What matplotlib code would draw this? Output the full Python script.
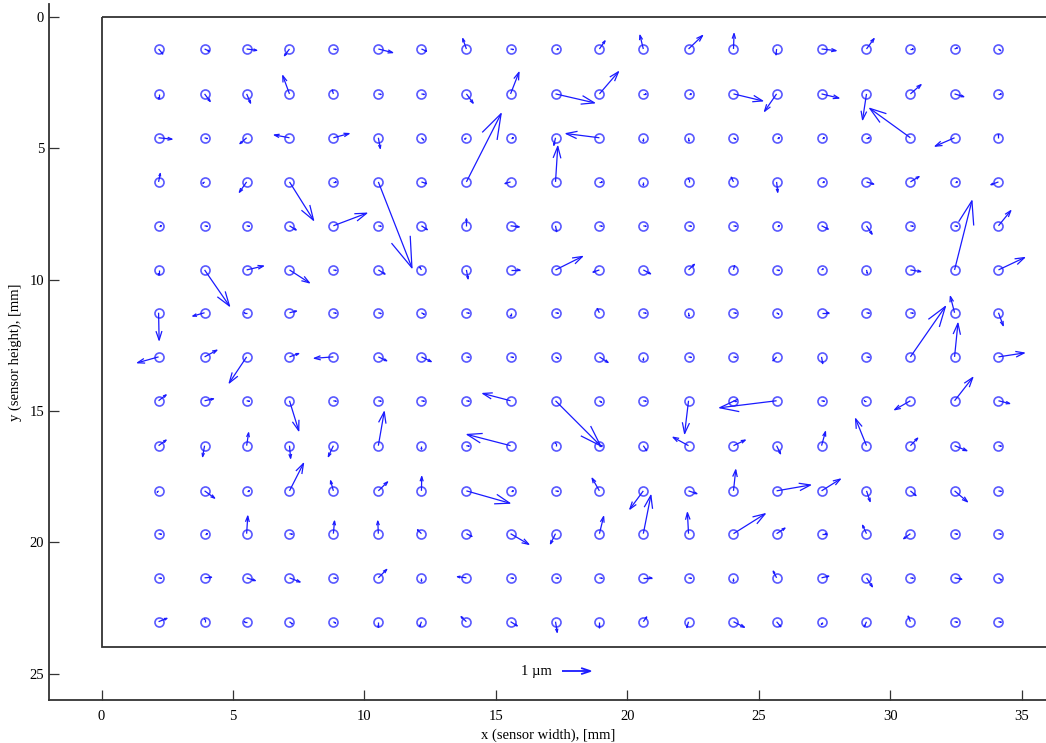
import matplotlib.pyplot as plt
import numpy as np
from matplotlib.collections import LineCollection
from matplotlib.patches import Rectangle

plt.rcParams['font.family'] = ['Liberation Serif', 'DejaVu Serif']

# sensor outline, mm
sensor_w, sensor_h = 36, 24

# measurement grid, mm
col_x = [2.17, 3.92, 5.52, 7.15, 8.82, 10.53, 12.17, 13.88, 15.56, 17.27,
         18.94, 20.61, 22.33, 24.04, 25.68, 27.39, 29.10, 30.77, 32.45, 34.12]
row_y = [1.22, 2.93, 4.60, 6.28, 7.95, 9.63, 11.26, 12.94, 14.61, 16.32,
         18.04, 19.67, 21.35, 23.02]

# displacement in x, um (one list per row)
du = [
    [0.15, 0.17, 0.36, -0.18, 0.10, 0.51, 0.18, -0.13, 0.10, 0.10, 0.20, -0.12, 0.50, 0.02, -0.02, 0.52, 0.27, 0.10, 0.10, 0.08],
    [0.00, 0.20, 0.14, -0.24, -0.04, 0.10, 0.10, 0.24, 0.30, 1.39, 0.68, 0.10, 0.10, 1.04, -0.43, 0.62, -0.14, 0.38, 0.33, 0.10],
    [0.48, 0.10, -0.24, -0.54, 0.56, 0.07, 0.08, -0.06, 0.10, -0.06, -1.19, 0.00, 0.02, 0.08, 0.10, 0.10, 0.10, -1.45, -0.69, 0.00],
    [0.06, -0.06, -0.26, 0.86, 0.10, 1.20, 0.18, 1.24, -0.20, 0.08, 0.10, 0.00, 0.00, -0.08, 0.04, 0.10, 0.26, 0.31, 0.10, -0.27],
    [0.10, 0.10, 0.10, 0.24, 1.19, 0.10, 0.21, 0.00, 0.31, 0.04, 0.10, 0.10, 0.10, 0.10, 0.10, 0.24, 0.20, 0.10, 0.10, 0.44],
    [0.00, 0.89, 0.60, 0.71, 0.10, 0.24, -0.06, 0.06, 0.33, 0.96, -0.23, 0.26, 0.21, 0.04, 0.10, 0.06, 0.03, 0.37, 0.62, 0.93],
    [0.02, -0.42, -0.08, 0.25, 0.10, 0.10, 0.10, 0.10, 0.00, 0.10, -0.08, 0.10, 0.02, 0.10, 0.08, 0.26, 0.10, 0.10, -0.15, 0.17],
    [-0.75, 0.44, -0.62, 0.33, -0.68, 0.30, 0.35, 0.10, 0.10, 0.10, 0.31, 0.00, 0.10, 0.10, -0.13, 0.04, 0.10, 1.25, 0.12, 0.92],
    [0.27, 0.32, 0.10, 0.33, 0.10, 0.10, 0.10, 0.10, -0.99, 1.61, 0.08, 0.10, -0.14, 0.10, -2.03, 0.10, -0.08, -0.56, 0.65, 0.40],
    [0.27, -0.07, 0.07, 0.04, -0.18, 0.21, 0.00, 0.10, -1.55, 0.00, 0.10, 0.12, -0.55, 0.42, 0.14, 0.14, -0.39, 0.26, 0.44, 0.10],
    [-0.05, 0.36, 0.10, 0.50, -0.10, 0.33, 0.01, 1.55, 0.10, 0.10, -0.26, -0.48, 0.30, 0.08, 1.21, 0.67, 0.13, 0.20, 0.46, 0.10],
    [0.10, 0.10, 0.04, 0.10, 0.04, -0.02, -0.14, 0.20, 0.65, -0.18, 0.15, 0.27, -0.04, 1.13, 0.30, 0.18, -0.14, -0.24, 0.10, 0.10],
    [0.10, 0.25, 0.31, 0.38, 0.10, 0.30, 0.00, -0.32, 0.10, 0.10, 0.10, 0.30, 0.10, 0.00, -0.12, 0.26, 0.21, 0.10, 0.26, 0.10],
    [0.30, 0.00, -0.08, 0.10, 0.08, 0.00, -0.06, -0.19, 0.24, 0.06, 0.00, 0.12, -0.06, 0.39, 0.15, 0.00, -0.08, -0.08, 0.10, 0.10],
]
# displacement in y, um (positive = towards larger y, i.e. down on the plot)
dv = [
    [0.18, 0.08, 0.05, 0.24, 0.02, 0.13, 0.08, -0.37, 0.02, 0.00, -0.29, -0.49, -0.48, -0.55, 0.21, 0.06, -0.37, 0.00, -0.04, 0.06],
    [0.18, 0.27, 0.33, -0.65, -0.14, 0.02, 0.02, 0.33, -0.77, 0.32, -0.79, 0.00, 0.00, 0.25, 0.62, 0.15, 0.92, -0.33, 0.10, 0.00],
    [0.05, 0.03, 0.21, -0.10, -0.15, 0.38, 0.08, 0.05, 0.00, 0.27, -0.15, 0.12, 0.12, 0.06, 0.00, 0.00, 0.00, -1.05, 0.30, -0.12],
    [-0.30, 0.05, 0.37, 1.37, 0.00, 3.07, 0.06, -2.44, 0.06, -1.27, 0.00, 0.12, -0.12, -0.17, 0.37, 0.00, 0.08, -0.19, 0.00, 0.10],
    [0.00, 0.02, 0.02, 0.15, -0.45, 0.02, 0.14, -0.25, 0.04, 0.21, 0.02, 0.02, 0.02, 0.02, 0.00, 0.12, 0.30, 0.02, 0.02, -0.54],
    [0.18, 1.29, -0.14, 0.46, 0.02, 0.15, -0.10, 0.32, 0.00, -0.48, 0.08, 0.14, -0.20, -0.15, 0.02, -0.04, 0.12, 0.06, -2.47, -0.44],
    [0.98, 0.12, 0.00, -0.06, 0.02, 0.03, 0.06, 0.02, 0.12, 0.02, -0.15, 0.02, 0.12, 0.02, 0.05, 0.00, 0.02, 0.02, -0.58, 0.46],
    [0.21, -0.24, 0.93, -0.12, 0.05, 0.14, 0.17, 0.02, 0.02, 0.06, 0.20, 0.12, 0.02, 0.02, 0.14, 0.24, 0.02, -1.80, -1.20, -0.14],
    [-0.21, -0.07, 0.02, 1.07, 0.02, 0.02, 0.02, 0.02, -0.26, 1.61, 0.06, 0.02, 1.17, 0.03, 0.25, 0.02, 0.00, 0.32, -0.83, 0.10],
    [-0.20, 0.39, -0.46, 0.45, 0.39, -1.21, 0.12, 0.02, -0.40, -0.10, 0.00, 0.18, -0.30, -0.20, 0.29, -0.50, -0.96, -0.27, 0.18, 0.02],
    [0.05, 0.26, 0.00, -0.98, -0.36, -0.32, -0.51, 0.44, 0.00, 0.02, -0.45, 0.65, 0.10, -0.75, -0.21, -0.42, 0.38, 0.17, 0.39, 0.02],
    [0.02, 0.00, -0.63, 0.02, -0.45, -0.45, -0.14, 0.10, 0.38, 0.36, -0.61, -1.37, -0.75, -0.71, -0.20, 0.00, -0.30, 0.18, 0.02, 0.02],
    [0.02, -0.02, 0.10, 0.15, 0.02, -0.30, 0.12, -0.04, 0.02, 0.02, 0.02, 0.00, 0.02, 0.12, -0.24, -0.06, 0.32, 0.02, 0.05, 0.08],
    [-0.12, -0.10, 0.00, 0.08, 0.05, 0.20, 0.17, -0.18, 0.15, 0.38, 0.21, -0.17, 0.21, 0.20, 0.18, 0.10, 0.18, -0.20, 0.02, 0.02],
]

key_value = 1.0      # um
key_label = '1 µm'
mm_per_um = 1.065    # arrow scale on the plot


def arrow_segments(x, y, u, v, alpha=0.33, beta=0.33):
    # shaft plus open V head (head size relative to arrow length)
    x, y, u, v = map(np.ravel, (x, y, u, v))
    segs = []
    for xi, yi, ui, vi in zip(x, y, u, v):
        tx, ty = xi + ui, yi + vi
        segs.append([(xi, yi), (tx, ty)])
        segs.append([(tx - alpha * (ui + beta * vi), ty - alpha * (vi - beta * ui)),
                     (tx, ty),
                     (tx - alpha * (ui - beta * vi), ty - alpha * (vi + beta * ui))])
    return segs


X, Y = np.meshgrid(col_x, row_y)
U = np.array(du) * mm_per_um
V = np.array(dv) * mm_per_um

fig = plt.figure(figsize=(10.46, 7.43), dpi=100)
ax = fig.add_axes([0.0468, 0.0579, 0.955, 0.937])

ax.add_patch(Rectangle((0, 0), sensor_w, sensor_h, fill=False, ec='#333333', lw=1.3, zorder=1))
ax.plot(X.ravel(), Y.ravel(), 'o', ms=6.5, mfc='none', mec=(0.35, 0.35, 1.0), mew=1.2, zorder=2)
ax.add_collection(LineCollection(arrow_segments(X, Y, U, V), colors=[(0.1, 0.1, 1.0)],
                                 linewidths=0.9, zorder=3))

# key
kx, ky = 17.53, 24.9
ax.add_collection(LineCollection(arrow_segments(kx, ky, key_value * mm_per_um, 0.0),
                                 colors=[(0.1, 0.1, 1.0)], linewidths=1.3, zorder=3))
ax.text(kx - 0.38, ky, key_label, ha='right', va='center', fontsize=10.5)

ax.set_xlim(-2, 36)
ax.set_ylim(26, -0.5)
ax.set_xticks(range(0, 36, 5))
ax.set_yticks(range(0, 26, 5))
for side in ['top', 'right']:
    ax.spines[side].set_visible(False)
for side in ['left', 'bottom']:
    ax.spines[side].set_color('#333333')
    ax.spines[side].set_linewidth(1.3)
ax.tick_params(direction='in', length=7, width=0.9, color='#333333', labelsize=10.5)
ax.tick_params(axis='x', pad=7)
ax.set_xlabel('x (sensor width), [mm]', fontsize=10.5, labelpad=4)
ax.set_ylabel('y (sensor height), [mm]', fontsize=10.5, labelpad=5)

fig.savefig('out.png', dpi=100)
